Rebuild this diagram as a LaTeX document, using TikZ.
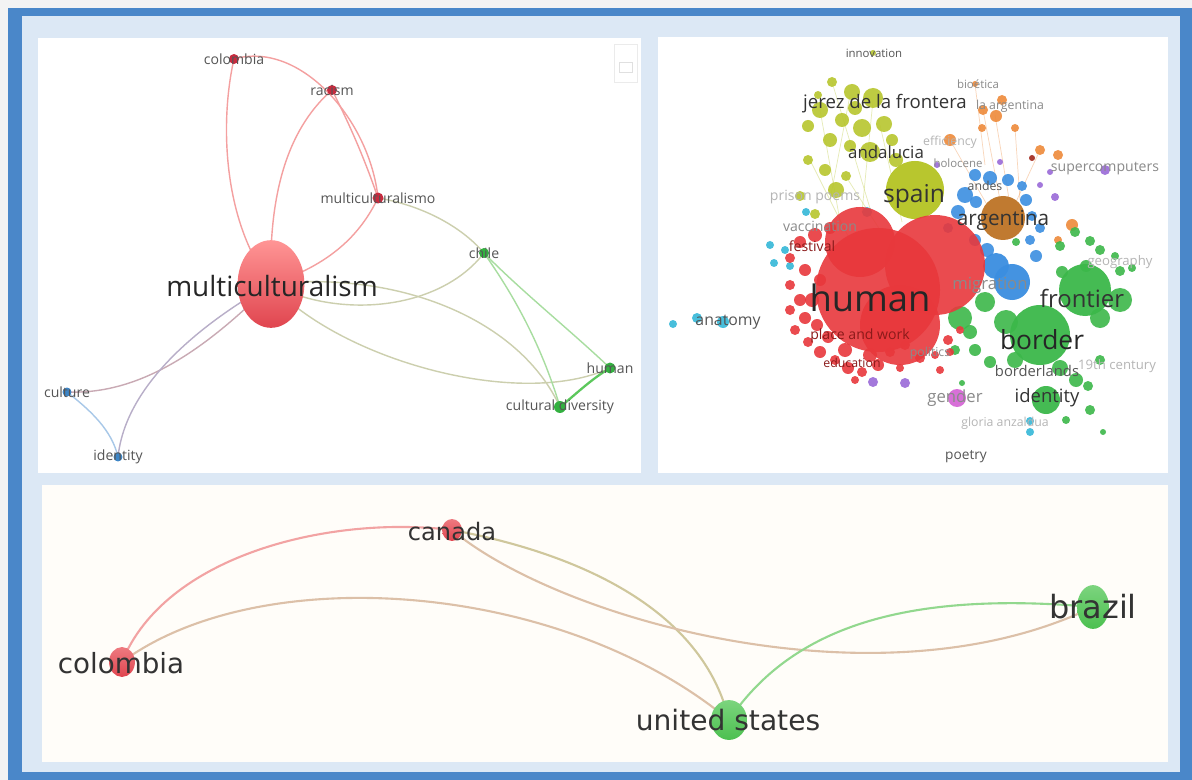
\documentclass[tikz,border=0pt]{standalone}
\usepackage{fontspec}
\setmainfont{Open Sans}
\newfontfamily\dvs{DejaVu Sans}
\usetikzlibrary{shapes.geometric}
\newdimen\pxu
\pxu=0.5669pt
\pgfdeclarelayer{bglayer}
\pgfdeclarelayer{edgelayer}
\pgfsetlayers{bglayer,edgelayer,main}
\definecolor{pagebg}{HTML}{F3F3F3}
\definecolor{framebl}{HTML}{4A87C9}
\definecolor{innerbl}{HTML}{DCE8F5}
\definecolor{panelw}{HTML}{FFFFFF}
\definecolor{panelc}{HTML}{FFFDF9}
\definecolor{tlred}{HTML}{C92A3E}
\definecolor{tlgreen}{HTML}{33B040}
\definecolor{tlblue}{HTML}{3D85C6}
\definecolor{edred}{HTML}{F4A0A0}
\definecolor{edolive}{HTML}{CCCFAE}
\definecolor{edgreen}{HTML}{A8DDA0}
\definecolor{edgreendk}{HTML}{5CC85C}
\definecolor{edmauve}{HTML}{C9AAB4}
\definecolor{edlilac}{HTML}{B8AEC8}
\definecolor{edblue}{HTML}{A8C8E8}
\definecolor{labc}{HTML}{333333}
\definecolor{labg}{HTML}{555555}
\definecolor{labf}{HTML}{B5B5B5}
\definecolor{labm}{HTML}{8A8A8A}
\definecolor{labr}{HTML}{8B1A1A}
\definecolor{cyg}{HTML}{B8C62E}
\definecolor{corange}{HTML}{EE8A3A}
\definecolor{cbrown}{HTML}{C07A30}
\definecolor{cblue}{HTML}{3B8EE0}
\definecolor{cpurple}{HTML}{9A6AD8}
\definecolor{ccyan}{HTML}{35B8D8}
\definecolor{cred}{HTML}{E8383C}
\definecolor{cgreen}{HTML}{3CB84A}
\definecolor{cmag}{HTML}{D870D8}
\definecolor{bred}{HTML}{E0454F}
\definecolor{bredl}{HTML}{EE7A80}
\definecolor{bgreen}{HTML}{4CC050}
\definecolor{bgreenl}{HTML}{7CD47E}
\definecolor{bedred}{HTML}{F2A3A3}
\definecolor{bedtan}{HTML}{DCC0A8}
\definecolor{bedolive}{HTML}{CFC79C}
\definecolor{bedgreen}{HTML}{92D88E}
\begin{document}
\begin{tikzpicture}[x=0.02cm,y=-0.02cm,
  fs/.style={font=\fontsize{#1}{#1}\selectfont},
  dfs/.style={font=\dvs\fontsize{#1}{#1}\selectfont},
  lbl/.style={inner sep=0pt, text=labc},
  tlab/.style={lbl, fs=8pt, text=labg},
  tldot/.style={circle, inner sep=0pt, minimum size=#1\pxu},
  tledge/.style={line width=0.8pt},
  bedge/.style={line width=1.2pt},
  bnode/.style={ellipse, inner sep=0pt},
  blab/.style={lbl, text=labc},
  panel/.style={fill=panelw, draw=none}
]
\useasboundingbox (0,0) rectangle (1192,780);
\begin{pgfonlayer}{bglayer}
  \fill[pagebg] (0,0) rectangle (1192,780);
  \fill[framebl] (8,8) rectangle (1192,780);
  \fill[innerbl] (22,16) rectangle (1180,772);
  \fill[panelw] (38,38) rectangle (641,473);
  \fill[panelw] (658,37) rectangle (1168,473);
  \fill[panelc] (42,485) rectangle (1168,762);
  % toolbar widget in top-left panel
  \draw[draw=black!8, line width=0.5pt] (614,44) rectangle (637,82);
  \draw[draw=black!12, line width=0.5pt] (619,62) rectangle (632,72);
\end{pgfonlayer}

% ---------------- top-left network ----------------
\node[tldot=10, fill=tlred] (colombiaA) at (234,59) {};
\node[tldot=10, fill=tlred] (racism) at (332,90) {};
\node[tldot=11, fill=tlred] (mcismo) at (378,198) {};
\node[tldot=10, fill=tlgreen] (chile) at (484,253) {};
\node[ellipse, inner sep=0pt, minimum width=67\pxu, minimum height=88\pxu, top color=red!35!white!90!red, bottom color=bred, shading angle=0] (mcism) at (271,284) {};
\node[tldot=11, fill=tlgreen] (humanA) at (610,368) {};
\node[tldot=12, fill=tlgreen] (cdiv) at (560,407) {};
\node[tldot=9, fill=tlblue] (culture) at (67,392) {};
\node[tldot=9, fill=tlblue] (identityA) at (118,457) {};

\begin{pgfonlayer}{edgelayer}
  \draw[tledge, edred] (colombiaA.center) .. controls (220,120) and (222,220) .. (mcism.center);
  \draw[tledge, edred] (colombiaA.center) .. controls (300,40) and (370,120) .. (mcismo.center);
  \draw[tledge, edred] (racism.center) .. controls (292,125) and (268,185) .. (mcism.center);
  \draw[tledge, edred] (racism.center) .. controls (350,125) and (365,160) .. (mcismo.center);
  \draw[tledge, edred] (mcismo.center) .. controls (360,235) and (330,265) .. (mcism.center);
  \draw[tledge, edolive] (mcismo.center) .. controls (420,205) and (460,225) .. (chile.center);
  \draw[tledge, edolive] (mcism.center) .. controls (340,320) and (440,310) .. (chile.center);
  \draw[tledge, edolive] (mcism.center) .. controls (400,270) and (520,320) .. (cdiv.center);
  \draw[tledge, edolive] (mcism.center) .. controls (340,360) and (520,410) .. (humanA.center);
  \draw[tledge, edgreen] (chile.center) .. controls (510,290) and (540,340) .. (cdiv.center);
  \draw[tledge, edgreen] (chile.center) .. controls (520,290) and (570,330) .. (humanA.center);
  \draw[line width=1.3pt, edgreendk] (humanA.center) .. controls (590,380) and (575,395) .. (cdiv.center);
  \draw[tledge, edmauve] (culture.center) .. controls (140,395) and (205,350) .. (mcism.center);
  \draw[tledge, edlilac] (identityA.center) .. controls (125,390) and (190,330) .. (mcism.center);
  \draw[tledge, edblue] (culture.center) .. controls (90,410) and (112,430) .. (identityA.center);
\end{pgfonlayer}

\node[tlab] at (colombiaA) {colombia};
\node[tlab] at (racism) {racism};
\node[tlab] at (mcismo) {multiculturalismo};
\node[tlab] at (chile) {chile};
\node[lbl, fs=15.9pt, text=black!85] at (272,286) {multiculturalism};
\node[tlab] at (humanA) {human};
\node[tlab] at (cdiv) {cultural diversity};
\node[tlab] at (culture) {culture};
\node[tlab] at (identityA) {identity};

% ---------------- top-right density cluster ----------------
\begin{scope}
  % faint links
  \foreach \a/\b/\c/\d in {850/95/830/200, 873/100/862/212, 832/82/872/215, 820/110/842/232, 880/125/902/222, 810/160/850/240, 845/175/880/230}
    \draw[cyg, opacity=0.35, line width=0.4pt] (\a,\b) -- (\c,\d);
  \foreach \a/\b/\c/\d in {983/110/1000/200, 995/115/1010/205, 1015/128/1020/200, 975/84/985/165, 1040/150/1010/215, 950/140/990/210}
    \draw[corange, opacity=0.35, line width=0.4pt] (\a,\b) -- (\c,\d);
  % yellow-green
  \foreach \x/\y/\r in {873/53/3, 832/82/5, 852/92/8, 873/98/10, 820/110/8, 842/120/7, 808/126/6, 862/128/9, 884/124/8, 830/140/7, 850/146/6, 870/152/10, 896/160/7, 808/160/5, 825/170/6, 846/176/5, 836/190/8, 800/196/5, 815/214/5, 892/140/6, 855/108/7, 818/95/4}
    \fill[cyg, fill opacity=0.9] (\x,\y) circle[radius=\r];
  \fill[cyg] (915,190) circle[radius=29];
  % orange / brown
  \foreach \x/\y/\r in {975/84/3, 983/110/5, 996/116/6, 1002/100/5, 1015/128/4, 982/128/4, 950/140/6, 1040/150/5, 1058/155/5, 1072/225/6, 1058/240/4}
    \fill[corange, fill opacity=0.9] (\x,\y) circle[radius=\r];
  \fill[cbrown!80!black!60!purple] (1032,158) circle[radius=3];
  % blue
  \foreach \x/\y/\r in {975/175/6, 990/178/7, 1008/180/6, 1022/186/5, 965/195/8, 958/212/7, 976/202/6, 1026/200/6, 1032/216/5, 975/240/6, 987/250/7, 1030/240/5, 1036/256/6, 948/228/5, 1040/228/5}
    \fill[cblue, fill opacity=0.9] (\x,\y) circle[radius=\r];
  \fill[cbrown] (1003,218) circle[radius=22];
  % purple
  \foreach \x/\y/\r in {1000/162/3, 1040/185/3, 1050/172/3, 1105/170/5, 1055/197/4, 873/382/5, 905/383/5, 937/165/3}
    \fill[cpurple, fill opacity=0.9] (\x,\y) circle[radius=\r];
  % cyan
  \foreach \x/\y/\r in {867/212/5, 770/245/4, 785/250/4, 774/263/4, 790/266/4, 723/322/6, 697/318/5, 673/324/4, 1030/421/4, 1030/432/4, 806/212/4}
    \fill[ccyan, fill opacity=0.9] (\x,\y) circle[radius=\r];
  % green
  \foreach \x/\y/\r in {1060/246/5, 1075/232/5, 1090/241/5, 1100/250/5, 1115/256/4, 1086/266/6, 1120/271/5, 1132/268/4, 1062/272/6, 1016/242/4, 1076/380/7, 1088/386/5, 1100/360/5, 1090/410/5, 1066/420/4, 1103/432/3, 962/383/3, 975/350/6, 990/362/6, 955/350/5, 970/332/7, 960/318/12, 985/302/10, 1006/322/12, 1120/300/12, 1100/318/10, 1015/360/8, 1060/368/8}
    \fill[cgreen, fill opacity=0.9] (\x,\y) circle[radius=\r];
  \fill[cgreen, fill opacity=0.95] (1085,290) circle[radius=26];
  \fill[cgreen, fill opacity=0.95] (1040,335) circle[radius=30];
  \fill[cgreen, fill opacity=0.95] (1046,400) circle[radius=14];
  % migration blue blob
  \fill[cblue, fill opacity=0.95] (996,266) circle[radius=13];
  \fill[cblue, fill opacity=0.95] (1012,282) circle[radius=18];
  % red
  \foreach \x/\y/\r in {800/242/6, 790/258/5, 805/270/6, 790/285/5, 800/300/6, 790/310/5, 805/318/6, 795/330/5, 808/342/5, 820/352/6, 835/360/5, 848/368/6, 862/372/5, 878/365/6, 890/352/5, 905/345/5, 920/358/5, 935/355/4, 948/340/5, 960/330/4, 815/235/7, 830/228/6, 845/350/7, 870/355/7, 828/337/6, 817/325/6, 812/300/7, 820/280/6, 950/352/4, 940/370/4, 855/380/4, 900/368/4}
    \fill[cred, fill opacity=0.9] (\x,\y) circle[radius=\r];
  \fill[cred, fill opacity=0.9] (860,242) circle[radius=35];
  \fill[cred, fill opacity=0.9] (935,265) circle[radius=50];
  \fill[cred, fill opacity=0.9] (900,325) circle[radius=40];
  \fill[cred, fill opacity=0.9] (878,290) circle[radius=62];
  \fill[cmag] (957,398) circle[radius=9];
\end{scope}

\node[lbl, fs=6.5pt, text=labg] (tinnov) at (874,53) {innovation};
\node[lbl, fs=6.5pt, text=labm] (tbio) at (978,84) {bioética};
\node[lbl, fs=10.6pt] (tjerez) at (885,104) {jerez de la frontera};
\node[lbl, fs=7pt, text=labm] (tlaarg) at (1010,106) {la argentina};
\node[lbl, fs=7pt, text=labf] (teffic) at (950,142) {efficiency};
\node[lbl, fs=9.6pt] (tandal) at (886,152) {andalucia};
\node[lbl, fs=6.5pt, text=labm] (tholo) at (958,163) {holocene};
\node[lbl, fs=8pt, text=labm] (tsuper) at (1105,169) {supercomputers};
\node[lbl, fs=7pt, text=labg] (tandes) at (985,186) {andes};
\node[lbl, fs=14pt] (tspain) at (914,196) {spain};
\node[lbl, fs=8pt, text=labf] (tprison) at (815,197) {prison poems};
\node[lbl, fs=11.8pt] (targ) at (1003,220) {argentina};
\node[lbl, fs=8pt, text=labm] (tvacc) at (820,226) {vaccination};
\node[lbl, fs=8pt, text=labr] (tfest) at (812,246) {festival};
\node[lbl, fs=7.5pt, text=labf] (tgeo) at (1120,262) {geography};
\node[lbl, fs=20.7pt, text=black!85] (thuman) at (870,298) {human};
\node[lbl, fs=9.5pt, text=labm] (tmig) at (990,285) {migration};
\node[lbl, fs=13.6pt] (tfront) at (1082,298) {frontier};
\node[lbl, fs=15pt, text=black!85] (tborder) at (1042,340) {border};
\node[lbl, fs=9pt, text=labg] (tanat) at (728,322) {anatomy};
\node[lbl, fs=8pt, text=labr] (tplace) at (860,336) {place and work};
\node[lbl, fs=7pt, text=labr] (teduc) at (852,363) {education};
\node[lbl, fs=7pt, text=labm] (tpol) at (930,353) {politics};
\node[lbl, fs=8.4pt, text=labg] (tbland) at (1037,371) {borderlands};
\node[lbl, fs=7.5pt, text=labf] (tcent) at (1117,366) {19th century};
\node[lbl, fs=9.5pt, text=labm] (tgender) at (955,398) {gender};
\node[lbl, fs=10.5pt] (tident) at (1047,398) {identity};
\node[lbl, fs=7pt, text=labf] (tgloria) at (1005,423) {gloria anzaldua};
\node[lbl, fs=7.8pt, text=labg] (tpoetry) at (966,457) {poetry};

% ---------------- bottom network ----------------
\node[bnode, minimum width=26\pxu, minimum height=30\pxu, top color=bredl, bottom color=bred] (colombiaB) at (122,662) {};
\node[bnode, minimum width=20\pxu, minimum height=22\pxu, top color=bredl, bottom color=bred] (canada) at (452,530) {};
\node[bnode, minimum width=32\pxu, minimum height=44\pxu, top color=bgreenl, bottom color=bgreen] (brazil) at (1093,607) {};
\node[bnode, minimum width=36\pxu, minimum height=40\pxu, top color=bgreenl, bottom color=bgreen] (usa) at (729,720) {};
\begin{pgfonlayer}{edgelayer}
  \draw[bedge, bedred] (colombiaB.center) .. controls (165,555) and (330,515) .. (canada.center);
  \draw[bedge, bedtan] (colombiaB.center) .. controls (260,560) and (560,580) .. (usa.center);
  \draw[bedge, bedolive] (canada.center) .. controls (560,550) and (700,600) .. (usa.center);
  \draw[bedge, bedtan] (canada.center) .. controls (560,620) and (880,710) .. (brazil.center);
  \draw[bedge, bedgreen] (usa.center) .. controls (790,630) and (900,590) .. (brazil.center);
\end{pgfonlayer}
\node[blab, dfs=13.7pt] at (452,532) {canada};
\node[blab, dfs=15.8pt] at (121,663) {colombia};
\node[blab, dfs=18.2pt] at (1093,607) {brazil};
\node[blab, dfs=16pt] at (728,720) {united states};
\end{tikzpicture}
\end{document}
